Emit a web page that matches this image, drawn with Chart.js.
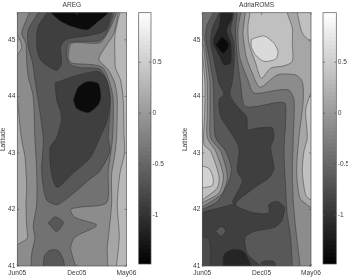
<!DOCTYPE html>
<html>
<head>
<meta charset="utf-8">
<script src="https://cdn.jsdelivr.net/npm/chart.js@4/dist/chart.umd.min.js"></script>
<style>
html,body{margin:0;padding:0;background:#fff;}
canvas{position:absolute;top:0;}
</style>
</head>
<body>
<canvas id="aregPlot" width="138" height="278" style="left:0"></canvas>
<canvas id="aregBar" width="34" height="278" style="left:136px"></canvas>
<canvas id="romsPlot" width="142" height="278" style="left:182px"></canvas>
<canvas id="romsBar" width="28" height="278" style="left:320px"></canvas>
<script>
// Axis ticks
const monthTicks = [0, 6, 11];
const monthLabels = ['Jun05', 'Dec05', 'May06'];
const latTicks = [41, 42, 43, 44, 45];
const barTicks = [-1, -0.5, 0, 0.5];
const latMax = 45.48;
const barMin = -1.48, barMax = 0.986;

// Rectangle behind each panel's contours, holding its lightest band
const panelBack = [[-0.6,45.6],[-0.6,40.9],[11.6,40.9],[11.6,45.6]];

// AREG filled contours: [month index, latitude] outlines, painted from the outside in
const aregStrip = [[-0.6,45.6],[-0.6,40.9],[10,40.9],[10,41],[10.27,41.52],[10.07,42.1],[10.34,42.64],[10.8,43],[10.74,43.35],[10.67,43.94],[10.4,44.29],[9.9,44.5],[9.83,44.7],[9.83,45.06],[10.07,45.3],[10.34,45.48],[10.4,45.6]];
const aregOuter = [[-0.6,45.6],[-0.13,45.15],[0.33,44.97],[0.44,44.85],[-0.13,44.68],[-0.23,44.24],[0,43.94],[0.27,43.47],[0.44,43.23],[0.77,42.93],[0.94,42.4],[0.87,42.05],[0.94,41.7],[1,41.49],[0.33,41.41],[-0.23,41.35],[-0.6,41.3],[-0.6,40.9],[8.83,40.9],[9.06,41.32],[9.5,42.09],[9.5,42.62],[9.83,42.97],[10,43.27],[10.07,43.94],[9.83,44.23],[9.16,44.47],[8.22,44.66],[9,44.91],[9.66,45.09],[10,45.3],[10.17,45.48],[10.3,45.6]];
const aregRidge = [[1.3,45.6],[1.2,45.48],[0.44,45.12],[0.87,44.94],[0.94,44.65],[1.1,44.35],[1.6,44],[1.78,43.23],[1.95,42.68],[1.95,42.09],[1.6,41.7],[1.78,41.5],[1.44,41.2],[1.6,40.9],[5.8,40.9],[5.37,41.32],[5.8,41.51],[8,41.72],[5.8,41.86],[5.37,42],[6.3,42.04],[9,42.12],[9.16,42.68],[9.6,43.27],[9.66,43.94],[9.33,44.23],[8.66,44.5],[7.65,44.56],[5.47,44.59],[5.13,44.68],[5.47,44.94],[8.32,44.95],[9.26,45.18],[10,45.48],[10,45.6]];
const aregCentre = [[2.2,45.6],[2.1,45.48],[1.1,45.18],[1.1,44.88],[1.54,44.59],[1.78,44.29],[2.1,43.94],[2.62,43.23],[2.45,42.68],[2.95,42.17],[4.13,42.09],[7.48,42.56],[8.32,42.68],[9.33,43.03],[9.16,43.27],[9.4,43.94],[9.06,44.26],[8.32,44.48],[6.3,44.51],[5.37,44.56],[4.97,44.7],[5.23,44.95],[8.32,44.99],[9.16,45.18],[9.73,45.48],[9.8,45.6]];
const aregSmallBlob = [[3.12,41.76],[3.8,41.87],[4.63,41.77],[3.96,41.61]];
const aregFootBlob = [[2.62,40.9],[2.72,41.17],[3.29,41.28],[4.13,41.27],[4.63,41.11],[4.7,40.9]];
const aregTopDark = [[3,45.6],[2.95,45.48],[2.1,45.24],[1.95,45.06],[2,44.82],[2.45,44.62],[3.96,44.46],[4.46,44.59],[4.36,44.88],[4.97,45.01],[7,45.07],[8.32,45.12],[9,45.19],[9.5,45.48],[9.5,45.6]];
const aregMidDark = [[3.8,44.24],[6.14,44.38],[8.15,44.44],[9,44.29],[9.33,44],[9.06,43.58],[8.32,43.27],[7.32,42.91],[5.47,42.62],[4.03,42.39],[3.46,42.62],[3.29,43.09],[3.96,43.27],[4.46,43.64],[3.96,43.94]];
const aregTopCore = [[3.45,45.6],[3.45,45.48],[4.3,45.34],[5.47,45.24],[7.05,45.18],[8.15,45.33],[9.16,45.48],[9.2,45.6]];
const aregMidCore = [[5.64,43.94],[6.14,44.16],[6.98,44.26],[8.15,44.23],[8.42,44],[8.15,43.85],[7.15,43.71],[5.97,43.79]];

// AdriaROMS filled contours
const romsBase = [[-0.6,45.6],[-0.6,42.8],[0,42.77],[0.7,42.72],[1.1,42.55],[1,42.42],[0,42.38],[-0.6,42.33],[-0.6,40.9],[11.6,40.9],[11.6,45.6]];
const romsUpper = [[-0.6,45.6],[-0.6,44.85],[-0.17,44.82],[0,44.73],[0.27,44.23],[0.24,43.7],[0.17,43.15],[0.84,43.03],[1.69,42.59],[1.52,42.38],[0,42.17],[-0.6,42.1],[-0.6,40.9],[11.6,40.9],[11.6,42.2],[11,42.17],[10.46,42.26],[10.12,42.68],[10.29,43.03],[10.63,43.27],[10.46,43.76],[11,44.06],[11.6,44.2],[11.6,44.95],[11,44.97],[10.12,45.12],[9.62,45.48],[9.5,45.6],[8.6,45.6],[8.6,45.48],[9.11,45.21],[9.11,44.94],[9.11,44.62],[8.27,44.54],[6.92,44.5],[5.97,44.32],[5.4,44.59],[4.72,44.94],[4.62,45.24],[4.82,45.48],[4.85,45.6]];
const romsMiddle = [[-0.6,45.6],[-0.6,45],[-0.17,44.97],[0.1,44.91],[0.24,44.7],[0.5,44.23],[0.5,43.7],[0.5,43.27],[1.35,43.03],[2.13,42.59],[1.69,42.29],[0,42.12],[-0.6,42.05],[-0.6,40.9],[11.6,40.9],[11.6,41.9],[11,42.03],[9.89,42.2],[9.55,42.68],[9.78,43.27],[10.22,43.94],[10.12,44.26],[9.45,44.38],[7.59,44.38],[5.84,44.16],[5.13,44.38],[4.45,44.7],[4.12,45.12],[4.35,45.48],[4.4,45.6]];
const romsLower = [[-0.6,45.6],[-0.6,45.15],[-0.17,45.15],[0.17,45.06],[0.44,44.7],[0.78,44.23],[0.78,43.7],[0.84,43.27],[1.86,43.03],[2.53,42.59],[2.02,42.29],[0.17,42.06],[-0.6,42],[-0.6,40.9],[9.89,40.9],[9.89,41],[9.45,41.67],[9.21,42.14],[9.11,42.68],[9.21,43.27],[9.28,43.94],[8.77,44.11],[7.59,44.11],[5.23,44.06],[4.62,44.29],[3.78,44.7],[3.61,45.18],[3.88,45.48],[3.9,45.6]];
const romsInner = [[1.15,45.6],[1.11,45.48],[0.5,45.27],[0.34,45.06],[0.67,44.7],[1.11,44.23],[1.18,43.7],[1.35,43.27],[2.36,43.03],[2.94,42.73],[2.7,42.5],[1.52,42.14],[0,42],[-0.6,41.95],[-0.6,40.9],[9.11,40.9],[9.11,41],[8.94,41.5],[8.6,41.91],[8.44,42.38],[8.27,42.97],[8.33,43.27],[8.44,43.58],[8.27,43.89],[4.39,43.82],[3.88,44.23],[3.54,44.7],[3.37,45.18],[3.54,45.48],[3.55,45.6]];
const romsSpine = [[1.7,45.6],[1.69,45.48],[1.01,45.21],[0.84,44.94],[1.18,44.65],[1.69,44.23],[2.19,44.04],[1.69,43.94],[1.86,43.64],[2.7,43.41],[3.71,43.09],[3.54,42.68],[4.05,42.5],[3.04,42.14],[3.2,42.1],[0,41.95],[-0.6,41.9],[-0.6,40.9],[5.9,40.9],[5.9,41],[4.62,41.2],[4.32,41.5],[5.23,41.61],[7.25,41.68],[8,41.79],[8.33,42.03],[7.59,42.14],[6.75,42.09],[6.75,41.94],[5.23,41.94],[3.37,42.09],[5.23,42.38],[6.75,42.56],[7.25,42.73],[6.92,43.09],[7.25,43.27],[7.08,43.44],[5.57,43.44],[4.62,43.41],[4.49,43.64],[3.54,43.82],[2.8,44.03],[3.04,44.26],[3.21,44.59],[3.21,44.94],[2.87,45.18],[3.21,45.48],[3.2,45.6]];
const romsLightBlob = [[1.35,41.61],[1.86,41.7],[2.36,41.63],[1.92,41.53]];
const romsCorner = [[-0.6,41.5],[0.6,41.5],[0.85,41.25],[0.6,40.9],[-0.6,40.9]];
const romsFootBlob = [[5.97,40.9],[6,41.07],[7.25,41.08],[7.42,40.9]];
const romsRing = [[1.9,45.6],[1.86,45.48],[1.69,45.24],[1.11,44.97],[1.69,44.73],[2.19,44.56],[2.87,44.59],[2.87,44.94],[2.46,45.18],[2.94,45.35],[3.04,45.48],[3.05,45.6]];
const romsFootDark = [[2.13,40.9],[2.19,41.2],[3.04,41.29],[4.22,41.25],[4.96,40.9]];
const romsDiamond = [[1.35,44.91],[2.02,45.05],[2.7,44.91],[2.13,44.76]];
const romsBright = [[4.96,45.01],[6.24,45.07],[7.25,44.94],[7.66,44.79],[7.42,44.66],[6.24,44.62],[5.4,44.73],[4.96,44.88]];

// Contour band values, listed in paint order
const aregBands = [
  [0.3, panelBack], [0.125, aregStrip], [-0.125, aregOuter], [-0.375, aregRidge], [-0.625, aregCentre],
  [-0.625, aregSmallBlob], [-0.625, aregFootBlob], [-0.875, aregTopDark], [-0.875, aregMidDark],
  [-1.375, aregTopCore], [-1.375, aregMidCore]
];
const romsBands = [
  [0.55, panelBack], [0.375, romsBase], [0.125, romsUpper], [-0.125, romsMiddle], [-0.375, romsLower],
  [-0.625, romsInner], [-0.875, romsSpine], [-0.625, romsLightBlob], [-0.75, romsCorner], [-0.875, romsFootBlob],
  [-1.125, romsRing], [-1.125, romsFootDark], [-1.375, romsDiamond], [0.625, romsBright]
];

const FONT = {family: '"Liberation Sans", Arial, sans-serif', size: 6.6};
const INK = '#3a3a3a';

// Linear gray ramp across the colour bar range
function grayFor(v) {
  const g = Math.round(255 * Math.min(1, Math.max(0, (v - barMin) / (barMax - barMin))));
  return `rgb(${g},${g},${g})`;
}

// Plot frame with short inward ticks
const frame = {
  id: 'frame',
  afterDatasetsDraw(chart) {
    const {ctx, chartArea: a} = chart;
    ctx.save();
    ctx.strokeStyle = '#555';
    ctx.lineWidth = 0.7;
    ctx.strokeRect(a.left, a.top, a.right - a.left, a.bottom - a.top);
    ctx.beginPath();
    Object.values(chart.scales).forEach(s => {
      if (!s.options.display) return;
      s.ticks.forEach(t => {
        const p = s.getPixelForValue(t.value);
        if (s.axis === 'x') { ctx.moveTo(p, a.bottom); ctx.lineTo(p, a.bottom - 2); ctx.moveTo(p, a.top); ctx.lineTo(p, a.top + 2); }
        else { ctx.moveTo(a.left, p); ctx.lineTo(a.left + 2, p); ctx.moveTo(a.right, p); ctx.lineTo(a.right - 2, p); }
      });
    });
    ctx.stroke();
    ctx.restore();
  }
};

function contourChart(id, title, bands, axisWidth, rightGap) {
  new Chart(document.getElementById(id), {
    type: 'line',
    data: {
      datasets: bands.map(([level, path], i) => ({
        data: path.concat([path[0]]).map(([x, y]) => ({x, y})),
        fill: 'shape',
        backgroundColor: grayFor(level),
        borderColor: '#2a2a2a',
        borderWidth: 0.45,
        tension: 0.25,
        pointRadius: 0,
        order: bands.length - i
      }))
    },
    options: {
      responsive: false,
      animation: false,
      devicePixelRatio: 1,
      layout: {padding: {left: 0, right: rightGap, top: 0, bottom: 0}},
      elements: {line: {capBezierPoints: false}},
      plugins: {
        legend: {display: false},
        tooltip: {enabled: false},
        title: {display: true, text: title, color: INK, font: {...FONT, weight: 'normal', lineHeight: 1.2}, fullSize: false, padding: {top: 0.8, bottom: 4}}
      },
      scales: {
        x: {
          type: 'linear', min: 0, max: 11,
          grid: {display: false, drawTicks: false}, border: {display: false},
          afterBuildTicks: a => { a.ticks = monthTicks.map(value => ({value})); },
          afterFit: a => { a.height = 12; a.paddingLeft = 0; a.paddingRight = 0; },
          ticks: {
            color: INK, font: FONT, padding: 3, autoSkip: false, maxRotation: 0,
            callback: v => monthLabels[monthTicks.indexOf(v)]
          }
        },
        y: {
          min: 41, max: latMax,
          grid: {display: false, drawTicks: false}, border: {display: false},
          afterBuildTicks: a => { a.ticks = latTicks.map(value => ({value})); },
          afterFit: a => { a.width = axisWidth; a.paddingTop = 0; a.paddingBottom = 0; },
          title: {display: true, text: 'Latitude', color: INK, font: {...FONT, lineHeight: 1}, padding: 0},
          ticks: {color: INK, font: FONT, padding: 2, autoSkip: false, callback: v => String(v)}
        }
      }
    },
    plugins: [frame]
  });
}

function colourBar(id, leftGap, barWidth, canvasWidth) {
  const steps = 64, dv = (barMax - barMin) / steps, datasets = [];
  for (let i = steps - 1; i >= 0; i--) {
    const lo = barMin + i * dv;
    datasets.push({
      data: [[lo - dv * 0.15, lo + dv]],
      backgroundColor: grayFor(lo + dv / 2),
      barPercentage: 1, categoryPercentage: 1, grouped: false, borderWidth: 0
    });
  }
  new Chart(document.getElementById(id), {
    type: 'bar',
    data: {labels: [''], datasets},
    options: {
      responsive: false,
      animation: false,
      devicePixelRatio: 1,
      layout: {padding: {left: leftGap, right: 0, top: 12.7, bottom: 14}},
      plugins: {legend: {display: false}, tooltip: {enabled: false}},
      scales: {
        x: {display: false},
        y: {
          position: 'right', min: barMin, max: barMax,
          grid: {display: false, drawTicks: false}, border: {display: false},
          afterBuildTicks: a => { a.ticks = barTicks.map(value => ({value})); },
          afterFit: a => { a.width = canvasWidth - leftGap - barWidth; a.paddingTop = 0; a.paddingBottom = 0; },
          ticks: {color: INK, font: FONT, padding: 1.5, autoSkip: false, callback: v => String(v)}
        }
      }
    },
    plugins: [frame]
  });
}

contourChart('aregPlot', 'AREG', aregBands, 17.3, 11.5);
colourBar('aregBar', 2.7, 12.3, 34);
contourChart('romsPlot', 'AdriaROMS', romsBands, 20.3, 13);
colourBar('romsBar', 3, 13.3, 28);
</script>
</body>
</html>
